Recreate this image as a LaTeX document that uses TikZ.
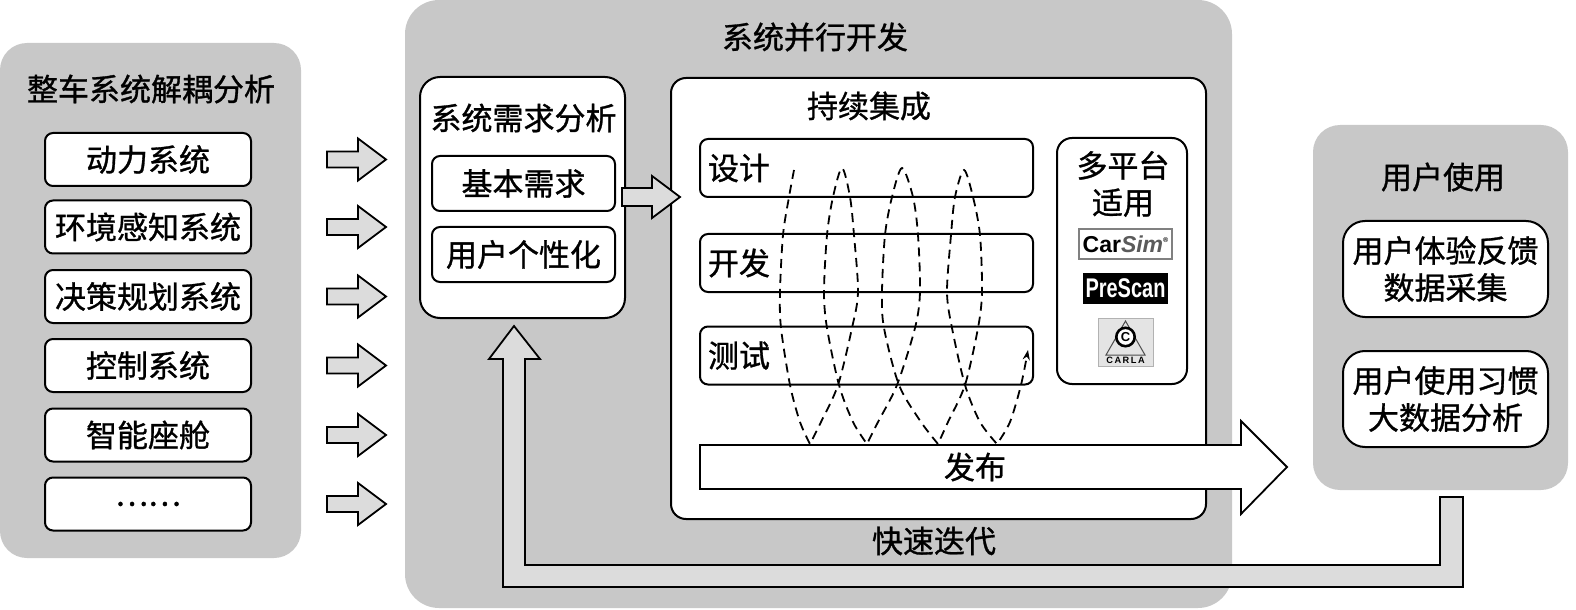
\documentclass[tikz,border=0pt]{standalone}
\usepackage{fontspec}
\usepackage{graphicx}
\setmainfont{Noto Sans CJK SC}[FakeBold=1]
\newfontfamily\logofont{Liberation Sans}
\usetikzlibrary{arrows.meta}
\definecolor{boxgray}{RGB}{200,200,200}
\definecolor{arrgray}{RGB}{220,220,220}
\definecolor{carlabg}{RGB}{228,228,228}
\definecolor{simgray}{RGB}{90,90,90}
\begin{document}
\begin{tikzpicture}[x=0.5pt,y=-0.5pt,
  panel/.style={fill=boxgray, draw=none, inner sep=0pt},
  wbox/.style={fill=white, draw=black, line width=1pt, inner sep=0pt, font=\fontsize{15.5}{18.5}\selectfont, align=center},
  lbl/.style={inner sep=0pt, font=\fontsize{15.5}{18.5}\selectfont, align=center},
  blockarrow/.style={fill=arrgray, draw=black, line width=0.9pt, line join=miter},
  whitearrow/.style={fill=white, draw=black, line width=0.9pt, line join=miter},
  spiral/.style={dash pattern=on 4.5pt off 3pt, line width=0.9pt}
]
\useasboundingbox (0,0) rectangle (1576,610);

% panels
\node[panel, rounded corners=13.5pt, minimum width=150.5pt, minimum height=257.5pt] (decomp) at (150.5,300.5) {};
\node[panel, rounded corners=17pt, minimum width=413.5pt, minimum height=304pt] (devpanel) at (818.5,304) {};
\node[panel, rounded corners=13.5pt, minimum width=127.5pt, minimum height=182.5pt] (usepanel) at (1440.5,307.5) {};

% titles
\node[lbl] (decomptitle) at (151,89) {整车系统解耦分析};
\node[lbl] (devtitle) at (815,37) {系统并行开发};
\node[lbl] (usetitle) at (1443,177) {用户使用};

% left subsystem boxes
\foreach \yy/\tt/\nn in {159.5/动力系统/sa, 227/环境感知系统/sb, 296.5/决策规划系统/sc, 365.5/控制系统/sd, 435/智能座舱/se, 504/……/sf}{
  \node[wbox, rounded corners=4pt, minimum width=103pt, minimum height=26.5pt] (\nn) at (148,\yy) {\tt};
  \draw[blockarrow] (327,\yy-8) -- (358,\yy-8) -- (358,\yy-21) -- (386,\yy) -- (358,\yy+21) -- (358,\yy+8) -- (327,\yy+8) -- cycle;
}

% requirement analysis
\node[wbox, rounded corners=10pt, minimum width=102.5pt, minimum height=120.5pt] (req) at (522.5,197.5) {};
\node[lbl] (reqtitle) at (523.5,118) {系统需求分析};
\node[wbox, rounded corners=4pt, minimum width=91.5pt, minimum height=27.5pt] (basic) at (523.5,183.5) {基本需求};
\node[wbox, rounded corners=4pt, minimum width=91.5pt, minimum height=27.5pt] (person) at (523.5,254.5) {用户个性化};

% continuous integration
\node[wbox, rounded corners=7.5pt, minimum width=267.5pt, minimum height=220.5pt] (ci) at (938.5,298.5) {};
\node[lbl] (cititle) at (869,106) {持续集成};
\draw[blockarrow] (622,188) -- (652,188) -- (652,176) -- (680,197) -- (652,218) -- (652,206) -- (622,206) -- cycle;

\foreach \yy/\tt/\nn in {168/设计/design, 263/开发/develop, 355.5/测试/test}{
  \node[wbox, rounded corners=4pt, minimum height=29pt, text width=158.5pt, inner xsep=4pt, align=left] (\nn) at (866.5,\yy) {\tt};
}

% multi platform
\node[wbox, rounded corners=7.5pt, minimum width=65pt, minimum height=123pt] (multi) at (1122,261) {};
\node[lbl] (multitext) at (1123,184) {多平台\\适用};
\node[draw=gray, fill=white, line width=0.6pt, inner sep=0pt, minimum width=46.5pt, minimum height=15pt] (carsim) at (1125.5,244)
  {\logofont\bfseries\fontsize{11.5}{11.5}\selectfont Car\textcolor{simgray}{\itshape Sim}{\fontsize{3.5}{3.5}\selectfont\raisebox{5pt}{®}}};
\node[fill=black, text=white, inner sep=0pt, minimum width=42.5pt, minimum height=15.5pt] (prescan) at (1125.5,288.5)
  {\scalebox{0.74}[1]{\logofont\bfseries\fontsize{13.5}{13.5}\selectfont PreScan}};
\node[fill=carlabg, draw=gray!60, line width=0.4pt, inner sep=0pt, minimum width=27.5pt, minimum height=24pt] (carla) at (1125.5,342) {};
\draw[line width=0.5pt, black!70] (1125.5,321) -- (1106,355) -- (1145,355) -- cycle;
\draw[line width=1.3pt, fill=white] (1125.5,337) circle (4.6pt);
\node[inner sep=0pt, font=\logofont\bfseries\fontsize{6.5}{6.5}\selectfont] (carlac) at (1125.5,337) {C};
\node[inner sep=0pt, font=\logofont\bfseries\fontsize{4.6}{4.6}\selectfont] (carlatext) at (1125.5,360) {C\,A\,R\,L\,A};

% user use
\node[wbox, rounded corners=11pt, minimum width=102.5pt, minimum height=48pt] (feedback) at (1445.5,269) {用户体验反馈\\数据采集};
\node[wbox, rounded corners=11pt, minimum width=102.5pt, minimum height=48pt] (habit) at (1445.5,399) {用户使用习惯\\大数据分析};

% spiral
\draw[spiral, -{Stealth[length=5pt,width=3.6pt]}]
 plot[smooth] coordinates {(794,170) (789,197) (783,235) (780,292) (781,328) (790,385) (800,422) (810,444)}
 -- plot[smooth] coordinates {(810,444) (821,422) (838,385) (852,328) (858,292) (854,235) (850,197) (842,168) (833,197) (827,235) (824,292) (827,328) (839,385) (853,422) (867,444)}
 -- plot[smooth] coordinates {(867,444) (878,422) (897,385) (915,328) (920,292) (918,235) (913,197) (902,168) (892,197) (885,235) (882,292) (884,328) (899,385) (921,422) (938,444)}
 -- plot[smooth] coordinates {(938,444) (948,422) (965,385) (978,328) (982,292) (980,235) (973,197) (964,170) (955,197) (951,235) (947,292) (952,328) (965,385) (980,422) (997,444)}
 -- plot[smooth] coordinates {(997,444) (1010,422) (1021,385) (1028,350)};

% release arrow
\draw[whitearrow] (700,445) -- (1241,445) -- (1241,421) -- (1287,467) -- (1241,514) -- (1241,489) -- (700,489) -- cycle;
\node[lbl] (release) at (975,467) {发布};

% feedback loop arrow
\draw[blockarrow] (1440,497) -- (1463,497) -- (1463,587) -- (503,587) -- (503,359) -- (489,359) -- (514,326) -- (540,359) -- (525,359) -- (525,565) -- (1440,565) -- cycle;
\node[lbl] (iterate) at (934,541) {快速迭代};

\end{tikzpicture}
\end{document}
